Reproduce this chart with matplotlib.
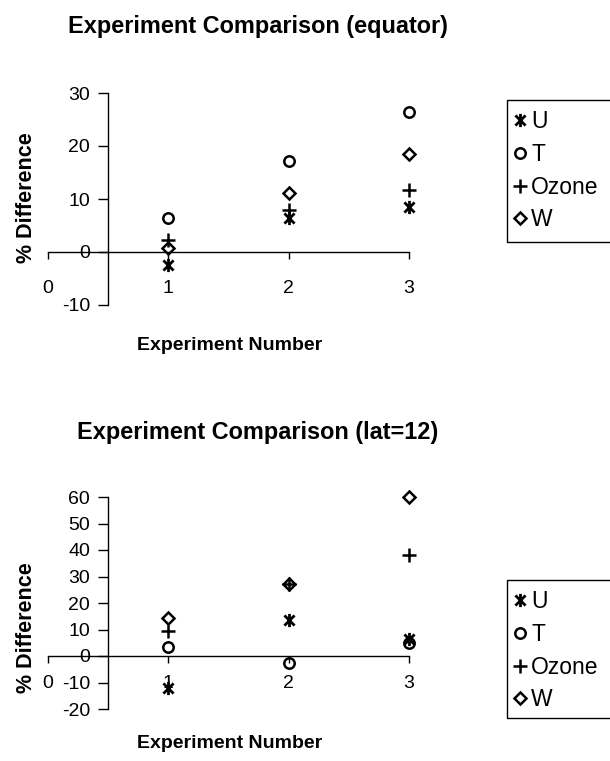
import matplotlib
matplotlib.use('Agg')
import matplotlib.pyplot as plt
from matplotlib.path import Path
from matplotlib.patches import Rectangle

plt.rcParams['font.family'] = ['Liberation Sans', 'DejaVu Sans']
plt.rcParams['axes.unicode_minus'] = False

experiments = [1, 2, 3]
x_ticks = [0, 1, 2, 3]

# equator
eq_u = [-2.5, 6.5, 8.5]
eq_t = [6.5, 17.2, 26.5]
eq_ozone = [2.3, 8.0, 11.7]
eq_w = [0.8, 11.2, 18.5]
eq_yticks = [-10, 0, 10, 20, 30]

# lat=12
lat_u = [-12.0, 13.5, 6.5]
lat_t = [3.5, -2.5, 5.0]
lat_ozone = [9.5, 27.0, 38.0]
lat_w = [14.5, 27.0, 60.0]
lat_yticks = [-20, -10, 0, 10, 20, 30, 40, 50, 60]

# asterisk like excel: X with a vertical bar
star = Path([(-1, -1), (1, 1), (-1, 1), (1, -1), (0, -1.3), (0, 1.3)],
            [Path.MOVETO, Path.LINETO, Path.MOVETO, Path.LINETO, Path.MOVETO, Path.LINETO])


def panel(ax, u, t, oz, w, yticks, title, title_y, xlab_y, ylab_y, xpad, leg_top, leg_bot):
    ax.plot(experiments, u, ls='none', marker=star, ms=9.5, mfc='none', mec='black', mew=2.0, label='U', clip_on=False)
    ax.plot(experiments, t, ls='none', marker='o', ms=7.5, mfc='none', mec='black', mew=1.8, label='T', clip_on=False)
    ax.plot(experiments, oz, ls='none', marker='+', ms=10, mec='black', mew=1.8, label='Ozone', clip_on=False)
    ax.plot(experiments, w, ls='none', marker='D', ms=6, mfc='none', mec='black', mew=1.8, label='W', clip_on=False)

    ax.set_xlim(0, 3)
    ax.set_ylim(yticks[0], yticks[-1])
    ax.set_xticks(x_ticks)
    ax.set_yticks(yticks)
    for s in ['top', 'right']:
        ax.spines[s].set_visible(False)
    ax.spines['left'].set_position(('data', 0.5))
    ax.spines['bottom'].set_position(('data', 0))
    ax.spines['left'].set_linewidth(1.0)
    ax.spines['bottom'].set_linewidth(1.0)
    ax.tick_params(axis='x', direction='out', length=5, width=1, pad=xpad, labelsize=14)
    ax.tick_params(axis='y', direction='out', length=7, width=1, pad=6, labelsize=14)
    ax.patch.set_visible(False)

    fig.text(0.423, title_y, title, ha='center', va='center', fontsize=16.9, fontweight='bold')
    fig.text(0.376, xlab_y, 'Experiment Number', ha='center', va='center', fontsize=14, fontweight='bold')
    fig.text(0.043, ylab_y, '% Difference', ha='center', va='center', rotation=90, fontsize=15.5, fontweight='bold')

    ax.legend(loc='upper left', bbox_to_anchor=(507 / 610, leg_top), bbox_transform=fig.transFigure,
              frameon=False, fontsize=16.5, handlelength=0.2, handletextpad=0.4,
              labelspacing=0.42, borderpad=0.45, borderaxespad=0)
    # legend box runs off the right edge like in the original
    fig.patches.append(Rectangle((507 / 610, leg_bot), 0.3, leg_top - leg_bot, transform=fig.transFigure,
                                 fill=False, edgecolor='black', linewidth=1.0))


fig = plt.figure(figsize=(6.1, 7.61), dpi=100)
ax1 = fig.add_axes([48 / 610, 1 - 305 / 761, 361 / 610, 212 / 761])
ax2 = fig.add_axes([48 / 610, 1 - 709 / 761, 361 / 610, 212 / 761])

panel(ax1, eq_u, eq_t, eq_ozone, eq_w, eq_yticks, 'Experiment Comparison (equator)',
      1 - 26 / 761, 1 - 346 / 761, 1 - 198 / 761, 15.5, 1 - 100 / 761, 1 - 242 / 761)
panel(ax2, lat_u, lat_t, lat_ozone, lat_w, lat_yticks, 'Experiment Comparison (lat=12)',
      1 - 432 / 761, 1 - 744 / 761, 1 - 628 / 761, 9, 1 - 580 / 761, 1 - 718 / 761)

fig.savefig('out.png', dpi=100)
